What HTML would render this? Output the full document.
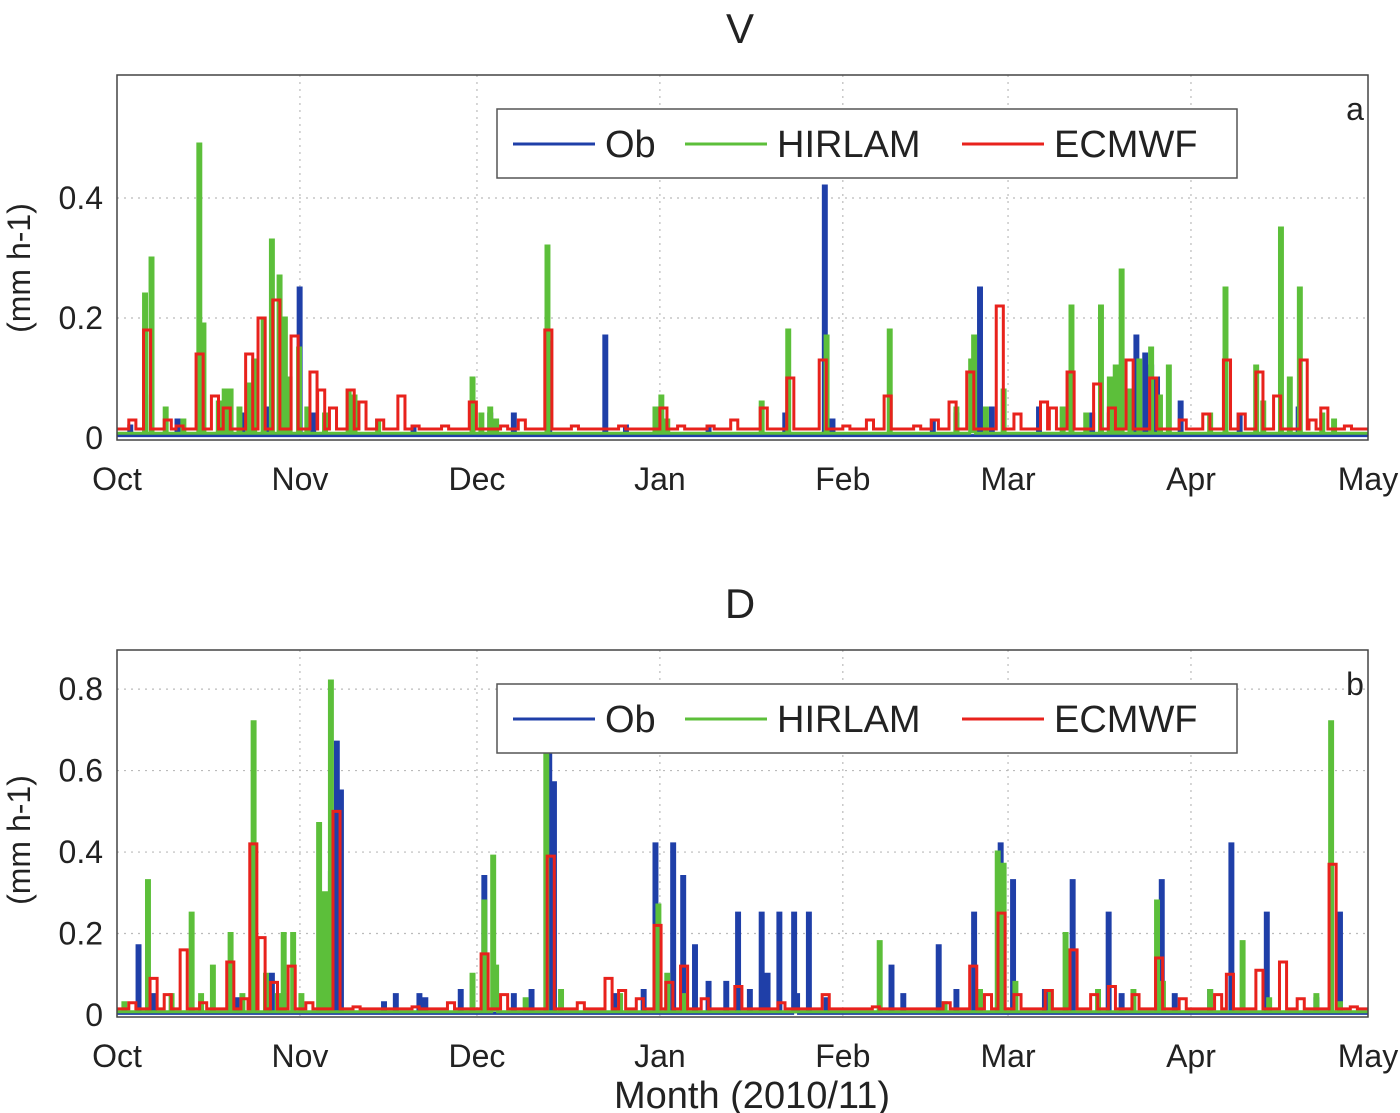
<!DOCTYPE html>
<html><head><meta charset="utf-8"><style>
html,body{margin:0;padding:0;background:#fff;}
svg{display:block;font-family:"Liberation Sans",sans-serif;}
</style></head><body>
<svg id="chart" width="1400" height="1113" viewBox="0 0 1400 1113" xmlns="http://www.w3.org/2000/svg"></svg>
<script>
const monthLabels=["Oct","Nov","Dec","Jan","Feb","Mar","Apr","May"];
const monthDays=[0,31,61,92,123,151,182,212];
const yTicksA=[0,0.2,0.4];
const yTicksB=[0,0.2,0.4,0.6,0.8];
// Panel a (V) events: day, value
const obDaysA=[5.6,21,25,30.7,63,67,73,82.5,119.7,142,146,156,172.5,175,200,2,10,18,28,33,50,86,100,113,121,138,148,165,168,174,176,180,190];
const obValsA=[0.07,0.04,0.05,0.25,0.04,0.04,0.16,0.17,0.42,0.04,0.25,0.05,0.17,0.12,0.05,0.02,0.03,0.02,0.05,0.04,0.02,0.02,0.02,0.04,0.03,0.03,0.05,0.04,0.04,0.14,0.10,0.06,0.04];
const hiDaysA=[4.5,5.6,13.7,14.4,18,22,24.6,26,27.3,28.2,30.6,39,40,60,63,72.7,92,109,113.5,120,130.7,145,150,161.5,166.5,170,173,175,178,187.6,192.8,197,200.2,204,8,11,17,19,20.5,23,29,32,35,44,61.5,64,91,93,142,144.5,147,160,164,168,169,171.5,176.5,185,194,198.5,206];
const hiValsA=[0.24,0.30,0.49,0.19,0.08,0.09,0.20,0.33,0.27,0.20,0.15,0.08,0.07,0.10,0.05,0.32,0.07,0.06,0.18,0.17,0.18,0.17,0.08,0.22,0.22,0.28,0.13,0.15,0.12,0.25,0.12,0.35,0.25,0.04,0.05,0.03,0.06,0.08,0.05,0.13,0.10,0.05,0.04,0.03,0.04,0.03,0.05,0.03,0.05,0.13,0.05,0.05,0.04,0.10,0.12,0.08,0.07,0.04,0.06,0.10,0.03];
const ecDaysA=[4.5,13.4,16,21.8,23.9,26.4,29.5,32.7,39,47.6,59.7,72.5,92,109,113.5,119,130,141,144,149,156.5,161,165.5,171,175,187.5,193,196,200.5,204,2,8,10,18,34,36,41,44,50,55,65,68,77,85,95,100,104,123,127,135,138,152,158,168,180,184,190,202,208];
const ecValsA=[0.18,0.14,0.07,0.14,0.20,0.23,0.17,0.11,0.08,0.07,0.06,0.18,0.05,0.05,0.10,0.13,0.07,0.06,0.11,0.22,0.06,0.11,0.09,0.13,0.10,0.13,0.11,0.07,0.13,0.05,0.03,0.03,0.02,0.05,0.08,0.05,0.06,0.03,0.02,0.02,0.02,0.03,0.02,0.02,0.02,0.02,0.03,0.02,0.03,0.02,0.03,0.04,0.05,0.05,0.03,0.04,0.04,0.03,0.02];
// Panel b (D)
const obDaysB=[3.4,36,37,37.7,51,62,73,73.8,91,94,95.7,97.7,105,109,112,114.5,117,131,139,145,149.5,151.6,161.7,167.8,176.8,188.6,194.6,207,6,20,26,28,45,47,52,58,67,70,84,89,100,103,107,110,115,120,133,142,157,170,179,185,203];
const obValsB=[0.17,0.35,0.67,0.55,0.05,0.34,0.64,0.57,0.42,0.42,0.34,0.17,0.25,0.25,0.25,0.25,0.25,0.12,0.17,0.25,0.42,0.33,0.33,0.25,0.33,0.42,0.25,0.25,0.05,0.04,0.10,0.05,0.03,0.05,0.04,0.06,0.05,0.06,0.05,0.06,0.08,0.08,0.06,0.10,0.05,0.04,0.05,0.06,0.06,0.05,0.05,0.06,0.04];
const hiDaysB=[5,12.4,16,19,22.9,28,29.6,34,36,63.5,62,72.5,91.5,129,149,150,160.5,176,190.5,205.5,1,9,14,21,25,27,31,35,60,64,69,75,85,93,96,140,146,152,158,166,172,177,185,195,203,207];
const hiValsB=[0.33,0.25,0.12,0.20,0.72,0.20,0.20,0.47,0.82,0.39,0.28,0.65,0.27,0.18,0.40,0.37,0.20,0.28,0.18,0.72,0.03,0.05,0.05,0.05,0.10,0.05,0.05,0.30,0.10,0.12,0.04,0.06,0.05,0.10,0.05,0.03,0.06,0.08,0.06,0.06,0.06,0.08,0.06,0.04,0.05,0.03];
const ecDaysB=[5.6,10.7,18.6,22.5,23.9,29,36.6,61.7,72.9,82.7,91,95.5,104.7,119.5,144.5,149.3,157.3,161.5,168,176,188,193,197,205.4,2,8,14,21,26,32,40,50,56,65,78,85,88,93,99,112,128,140,147,152,165,172,180,186,200,209];
const ecValsB=[0.09,0.16,0.13,0.42,0.19,0.12,0.50,0.15,0.39,0.09,0.22,0.12,0.07,0.05,0.12,0.25,0.06,0.16,0.07,0.14,0.10,0.11,0.13,0.37,0.03,0.05,0.03,0.04,0.08,0.03,0.02,0.02,0.03,0.05,0.03,0.06,0.04,0.08,0.04,0.03,0.02,0.03,0.05,0.05,0.05,0.05,0.04,0.05,0.04,0.02];

const NS="http://www.w3.org/2000/svg";
const svg=document.getElementById("chart");
function mk(tag,attrs,parent){const e=document.createElementNS(NS,tag);for(const k in attrs)e.setAttribute(k,attrs[k]);(parent||svg).appendChild(e);return e;}

const X0=117,X1=1368,TOTAL=212;
function xs(d){return X0+(X1-X0)*d/TOTAL;}

function panel(cfg){
  const g=mk("g",{});
  
  
  const ys=v=>cfg.y0-(cfg.y0-cfg.top)*v/cfg.ymax;
  mk("rect",{x:X0,y:cfg.top,width:X1-X0,height:cfg.y0-cfg.top+2,fill:"#fff",stroke:"none"},g);
  monthDays.forEach((d,i)=>{
    if(i>0&&i<monthDays.length-1){const l=mk("line",{x1:xs(d),x2:xs(d),y1:cfg.top,y2:cfg.y0+2,stroke:"#bbb","stroke-width":1.2,"stroke-dasharray":"2,5"},g);
    }
  });
  cfg.yticks.forEach(v=>{
    if(v>0){const l=mk("line",{x1:X0,x2:X1,y1:ys(v),y2:ys(v),stroke:"#bbb","stroke-width":1.2,"stroke-dasharray":"2,5"},g);
    }
    const t=mk("text",{x:103,y:ys(v)+11,"text-anchor":"end","font-size":32,fill:"#222"},g);
    t.textContent=String(v);
    
  });
  monthDays.forEach((d,i)=>{
    const t=mk("text",{x:xs(d),y:cfg.y0+52,"text-anchor":"middle","font-size":32,fill:"#222"},g);
    t.textContent=monthLabels[i];
    
  });
  const series=[[cfg.ob,"#1f3fa8",0.004,0.5,"ob-series"],[cfg.hi,"#5cbf3a",0.008,0.5,"hirlam-series"],[cfg.ec,"#e8221c",0.015,1.2,"ecmwf-series"]];
  series.forEach(([s,col,base,w,name])=>{
    const days=s[0],vals=s[1];
    const idx=days.map((d,i)=>i).sort((a,b)=>days[a]-days[b]);
    let p="M"+xs(0)+","+ys(base);let cur=0;
    idx.forEach(i=>{
      const d=Math.max(days[i],cur);
      p+=" L"+xs(d)+","+ys(base)+" L"+xs(d)+","+ys(vals[i])+" L"+xs(d+w)+","+ys(vals[i])+" L"+xs(d+w)+","+ys(base);
      cur=d+w;
    });
    p+=" L"+xs(TOTAL)+","+ys(base);
    const path=mk("path",{d:p,fill:"none",stroke:col,"stroke-width":3,"stroke-linejoin":"miter"},g);
    
  });
  const frame=mk("rect",{x:X0,y:cfg.top,width:X1-X0,height:cfg.y0-cfg.top+2,fill:"none",stroke:"#444","stroke-width":1.5},g);
  
  const tt=mk("text",{x:740,y:cfg.top-32,"text-anchor":"middle","font-size":42,fill:"#222"},g);
  tt.textContent=cfg.title;
  const lt=mk("text",{x:1355,y:cfg.top+45,"text-anchor":"middle","font-size":32,fill:"#222"},g);
  lt.textContent=cfg.letter;
  const yl=mk("text",{x:0,y:0,"text-anchor":"middle","font-size":32,fill:"#222",transform:"translate(30,"+cfg.ylabY+") rotate(-90)"},g);
  yl.textContent="(mm h-1)";
  const lg=mk("g",{},g);
  
  mk("rect",{x:497,y:cfg.legY,width:740,height:69,fill:"#fff",stroke:"#555","stroke-width":1.5},lg);
  const items=[["Ob","#1f3fa8",513,605],["HIRLAM","#5cbf3a",685,777],["ECMWF","#e8221c",962,1054]];
  items.forEach(([lab,col,lx,tx])=>{
    const e=mk("g",{},lg);
    
    mk("line",{x1:lx,x2:lx+82,y1:cfg.legY+35,y2:cfg.legY+35,stroke:col,"stroke-width":3},e);
    const t=mk("text",{x:tx,y:cfg.legY+48,"font-size":38,fill:"#222"},e);t.textContent=lab;
  });
}
panel({name:"panel-v",title:"V",letter:"a",top:75,y0:438,ymax:0.605,yticks:yTicksA,ylabY:268,legY:109,
  ob:[obDaysA,obValsA],hi:[hiDaysA,hiValsA],ec:[ecDaysA,ecValsA]});
panel({name:"panel-d",title:"D",letter:"b",top:650,y0:1015,ymax:0.896,yticks:yTicksB,ylabY:840,legY:684,
  ob:[obDaysB,obValsB],hi:[hiDaysB,hiValsB],ec:[ecDaysB,ecValsB]});
const xl=mk("text",{x:752,y:1108,"text-anchor":"middle","font-size":38,fill:"#222"});
xl.textContent="Month (2010/11)";


</script>
</body></html>
